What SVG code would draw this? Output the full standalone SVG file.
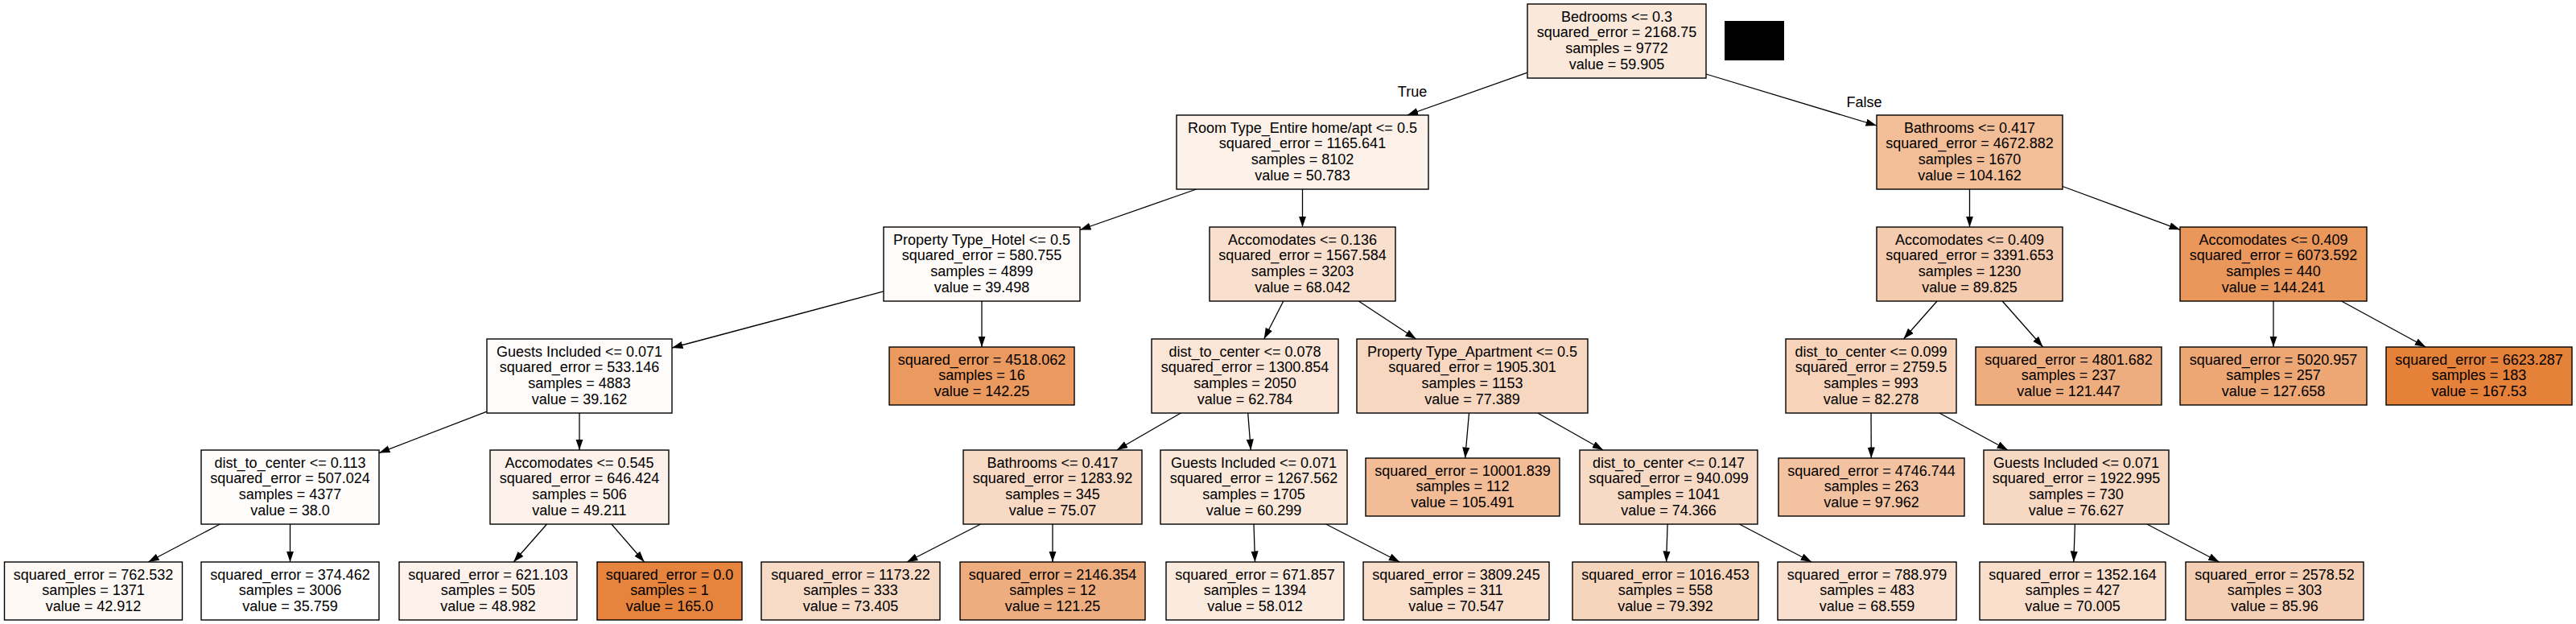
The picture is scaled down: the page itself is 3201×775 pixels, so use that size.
<svg xmlns="http://www.w3.org/2000/svg" width="3201" height="775" viewBox="0 0 3201 775">
<defs>
<marker id="ah" markerUnits="userSpaceOnUse" markerWidth="14" markerHeight="10" refX="13.5" refY="4.6" orient="auto">
<path d="M0,0 L13.5,4.6 L0,9.2 z" fill="#000"/>
</marker>
<style>
.box{stroke:#000;stroke-width:1.4}
text{font-family:"Liberation Sans",Arial,Helvetica,sans-serif;font-size:18px;fill:#000;text-anchor:middle}
.e{stroke:#000;stroke-width:1.3;fill:none;marker-end:url(#ah)}
</style>
</defs>
<rect width="3201" height="775" fill="#fff"/>
<g id="connectors">
<line class="e" x1="1898" y1="90.2" x2="1748.7" y2="143"/>
<line class="e" x1="2120" y1="92" x2="2332" y2="156"/>
<line class="e" x1="1486.6" y1="235" x2="1342" y2="285.5"/>
<line class="e" x1="1618.5" y1="235" x2="1618.5" y2="282"/>
<line class="e" x1="2447.5" y1="235" x2="2447.5" y2="282"/>
<line class="e" x1="2563" y1="231.5" x2="2709" y2="285.3"/>
<line class="e" x1="1098" y1="361.9" x2="835" y2="432"/>
<line class="e" x1="1220" y1="374" x2="1220" y2="431"/>
<line class="e" x1="1594.8" y1="374" x2="1570.7" y2="421"/>
<line class="e" x1="1688.3" y1="374" x2="1759.7" y2="421"/>
<line class="e" x1="2407" y1="374" x2="2365.5" y2="421"/>
<line class="e" x1="2488.2" y1="374" x2="2538.6" y2="431"/>
<line class="e" x1="2825" y1="374" x2="2825" y2="431"/>
<line class="e" x1="2909.6" y1="374" x2="3014.3" y2="431"/>
<line class="e" x1="605" y1="511.2" x2="471" y2="562.6"/>
<line class="e" x1="720" y1="513" x2="720" y2="559"/>
<line class="e" x1="1467.3" y1="513" x2="1387.7" y2="559"/>
<line class="e" x1="1550.7" y1="513" x2="1554.3" y2="559"/>
<line class="e" x1="1825.5" y1="513" x2="1820.6" y2="569"/>
<line class="e" x1="1910.8" y1="513" x2="1992.2" y2="559"/>
<line class="e" x1="2325" y1="513" x2="2325.3" y2="569"/>
<line class="e" x1="2410" y1="513" x2="2495" y2="559"/>
<line class="e" x1="273.3" y1="651" x2="184.2" y2="698"/>
<line class="e" x1="360.5" y1="651" x2="360.5" y2="698"/>
<line class="e" x1="679.5" y1="651" x2="638.2" y2="698"/>
<line class="e" x1="759.9" y1="651" x2="800.7" y2="698"/>
<line class="e" x1="1218.5" y1="651" x2="1127" y2="698"/>
<line class="e" x1="1308" y1="651" x2="1308" y2="698"/>
<line class="e" x1="1558" y1="651" x2="1559.5" y2="698"/>
<line class="e" x1="1647.7" y1="651" x2="1739.3" y2="698"/>
<line class="e" x1="2072.1" y1="651" x2="2070.6" y2="698"/>
<line class="e" x1="2161.4" y1="651" x2="2251.2" y2="698"/>
<line class="e" x1="2578.4" y1="651" x2="2576.8" y2="698"/>
<line class="e" x1="2667.9" y1="651" x2="2757.7" y2="698"/>
<text x="1755" y="119.5">True</text>
<text x="2316.5" y="133">False</text>
</g>
<rect x="2143" y="26" width="74" height="49" fill="#000"/>
<g id="n0"><rect class="box" x="1898" y="5" width="222" height="92" fill="#fae8db"/>
<text x="2009" y="26.5">Bedrooms &lt;= 0.3</text><text x="2009" y="46.3">squared_error = 2168.75</text><text x="2009" y="66.1">samples = 9772</text><text x="2009" y="85.9">value = 59.905</text></g>
<g id="n1"><rect class="box" x="1462" y="143" width="313" height="92" fill="#fcf1e8"/>
<text x="1618.5" y="164.5">Room Type_Entire home/apt &lt;= 0.5</text><text x="1618.5" y="184.3">squared_error = 1165.641</text><text x="1618.5" y="204.1">samples = 8102</text><text x="1618.5" y="223.9">value = 50.783</text></g>
<g id="n2"><rect class="box" x="2332" y="143" width="231" height="92" fill="#f2be98"/>
<text x="2447.5" y="164.5">Bathrooms &lt;= 0.417</text><text x="2447.5" y="184.3">squared_error = 4672.882</text><text x="2447.5" y="204.1">samples = 1670</text><text x="2447.5" y="223.9">value = 104.162</text></g>
<g id="n3"><rect class="box" x="1098" y="282" width="244" height="92" fill="#fefbf9"/>
<text x="1220" y="303.5">Property Type_Hotel &lt;= 0.5</text><text x="1220" y="323.3">squared_error = 580.755</text><text x="1220" y="343.1">samples = 4899</text><text x="1220" y="362.9">value = 39.498</text></g>
<g id="n4"><rect class="box" x="1503" y="282" width="231" height="92" fill="#f9e0ce"/>
<text x="1618.5" y="303.5">Accomodates &lt;= 0.136</text><text x="1618.5" y="323.3">squared_error = 1567.584</text><text x="1618.5" y="343.1">samples = 3203</text><text x="1618.5" y="362.9">value = 68.042</text></g>
<g id="n5"><rect class="box" x="2332" y="282" width="231" height="92" fill="#f4cbae"/>
<text x="2447.5" y="303.5">Accomodates &lt;= 0.409</text><text x="2447.5" y="323.3">squared_error = 3391.653</text><text x="2447.5" y="343.1">samples = 1230</text><text x="2447.5" y="362.9">value = 89.825</text></g>
<g id="n6"><rect class="box" x="2709" y="282" width="232" height="92" fill="#ea975c"/>
<text x="2825" y="303.5">Accomodates &lt;= 0.409</text><text x="2825" y="323.3">squared_error = 6073.592</text><text x="2825" y="343.1">samples = 440</text><text x="2825" y="362.9">value = 144.241</text></g>
<g id="n7"><rect class="box" x="605" y="421" width="230" height="92" fill="#fefcfa"/>
<text x="720" y="442.5">Guests Included &lt;= 0.071</text><text x="720" y="462.3">squared_error = 533.146</text><text x="720" y="482.1">samples = 4883</text><text x="720" y="501.9">value = 39.162</text></g>
<g id="n8"><rect class="box" x="1105" y="431" width="230" height="72" fill="#ea995f"/>
<text x="1220" y="452.5">squared_error = 4518.062</text><text x="1220" y="472.3">samples = 16</text><text x="1220" y="492.1">value = 142.25</text></g>
<g id="n9"><rect class="box" x="1431" y="421" width="232" height="92" fill="#fae5d6"/>
<text x="1547" y="442.5">dist_to_center &lt;= 0.078</text><text x="1547" y="462.3">squared_error = 1300.854</text><text x="1547" y="482.1">samples = 2050</text><text x="1547" y="501.9">value = 62.784</text></g>
<g id="n10"><rect class="box" x="1686" y="421" width="287" height="92" fill="#f7d7c0"/>
<text x="1829.5" y="442.5">Property Type_Apartment &lt;= 0.5</text><text x="1829.5" y="462.3">squared_error = 1905.301</text><text x="1829.5" y="482.1">samples = 1153</text><text x="1829.5" y="501.9">value = 77.389</text></g>
<g id="n11"><rect class="box" x="2219" y="421" width="212" height="92" fill="#f6d3b9"/>
<text x="2325" y="442.5">dist_to_center &lt;= 0.099</text><text x="2325" y="462.3">squared_error = 2759.5</text><text x="2325" y="482.1">samples = 993</text><text x="2325" y="501.9">value = 82.278</text></g>
<g id="n12"><rect class="box" x="2455" y="431" width="231" height="72" fill="#eead7e"/>
<text x="2570.5" y="452.5">squared_error = 4801.682</text><text x="2570.5" y="472.3">samples = 237</text><text x="2570.5" y="492.1">value = 121.447</text></g>
<g id="n13"><rect class="box" x="2709" y="431" width="232" height="72" fill="#eda775"/>
<text x="2825" y="452.5">squared_error = 5020.957</text><text x="2825" y="472.3">samples = 257</text><text x="2825" y="492.1">value = 127.658</text></g>
<g id="n14"><rect class="box" x="2965" y="431" width="231" height="72" fill="#e58139"/>
<text x="3080.5" y="452.5">squared_error = 6623.287</text><text x="3080.5" y="472.3">samples = 183</text><text x="3080.5" y="492.1">value = 167.53</text></g>
<g id="n15"><rect class="box" x="250" y="559" width="221" height="92" fill="#fffdfc"/>
<text x="360.5" y="580.5">dist_to_center &lt;= 0.113</text><text x="360.5" y="600.3">squared_error = 507.024</text><text x="360.5" y="620.1">samples = 4377</text><text x="360.5" y="639.9">value = 38.0</text></g>
<g id="n16"><rect class="box" x="609" y="559" width="222" height="92" fill="#fcf2eb"/>
<text x="720" y="580.5">Accomodates &lt;= 0.545</text><text x="720" y="600.3">squared_error = 646.424</text><text x="720" y="620.1">samples = 506</text><text x="720" y="639.9">value = 49.211</text></g>
<g id="n17"><rect class="box" x="1197" y="559" width="222" height="92" fill="#f7d9c4"/>
<text x="1308" y="580.5">Bathrooms &lt;= 0.417</text><text x="1308" y="600.3">squared_error = 1283.92</text><text x="1308" y="620.1">samples = 345</text><text x="1308" y="639.9">value = 75.07</text></g>
<g id="n18"><rect class="box" x="1442" y="559" width="232" height="92" fill="#fae8da"/>
<text x="1558" y="580.5">Guests Included &lt;= 0.071</text><text x="1558" y="600.3">squared_error = 1267.562</text><text x="1558" y="620.1">samples = 1705</text><text x="1558" y="639.9">value = 60.299</text></g>
<g id="n19"><rect class="box" x="1697" y="569" width="241" height="72" fill="#f1bc96"/>
<text x="1817.5" y="590.5">squared_error = 10001.839</text><text x="1817.5" y="610.3">samples = 112</text><text x="1817.5" y="630.1">value = 105.491</text></g>
<g id="n20"><rect class="box" x="1963" y="559" width="221" height="92" fill="#f7dac5"/>
<text x="2073.5" y="580.5">dist_to_center &lt;= 0.147</text><text x="2073.5" y="600.3">squared_error = 940.099</text><text x="2073.5" y="620.1">samples = 1041</text><text x="2073.5" y="639.9">value = 74.366</text></g>
<g id="n21"><rect class="box" x="2210" y="569" width="231" height="72" fill="#f3c3a1"/>
<text x="2325.5" y="590.5">squared_error = 4746.744</text><text x="2325.5" y="610.3">samples = 263</text><text x="2325.5" y="630.1">value = 97.962</text></g>
<g id="n22"><rect class="box" x="2465" y="559" width="230" height="92" fill="#f7d8c2"/>
<text x="2580" y="580.5">Guests Included &lt;= 0.071</text><text x="2580" y="600.3">squared_error = 1922.995</text><text x="2580" y="620.1">samples = 730</text><text x="2580" y="639.9">value = 76.627</text></g>
<g id="n23"><rect class="box" x="5.5" y="698" width="221" height="72" fill="#fef8f4"/>
<text x="116" y="719.5">squared_error = 762.532</text><text x="116" y="739.3">samples = 1371</text><text x="116" y="759.1">value = 42.912</text></g>
<g id="n24"><rect class="box" x="250" y="698" width="221" height="72" fill="#ffffff"/>
<text x="360.5" y="719.5">squared_error = 374.462</text><text x="360.5" y="739.3">samples = 3006</text><text x="360.5" y="759.1">value = 35.759</text></g>
<g id="n25"><rect class="box" x="496" y="698" width="221" height="72" fill="#fcf2eb"/>
<text x="606.5" y="719.5">squared_error = 621.103</text><text x="606.5" y="739.3">samples = 505</text><text x="606.5" y="759.1">value = 48.982</text></g>
<g id="n26"><rect class="box" x="742" y="698" width="180" height="72" fill="#e6833c"/>
<text x="832" y="719.5">squared_error = 0.0</text><text x="832" y="739.3">samples = 1</text><text x="832" y="759.1">value = 165.0</text></g>
<g id="n27"><rect class="box" x="946" y="698" width="222" height="72" fill="#f8dbc6"/>
<text x="1057" y="719.5">squared_error = 1173.22</text><text x="1057" y="739.3">samples = 333</text><text x="1057" y="759.1">value = 73.405</text></g>
<g id="n28"><rect class="box" x="1193" y="698" width="230" height="72" fill="#eead7e"/>
<text x="1308" y="719.5">squared_error = 2146.354</text><text x="1308" y="739.3">samples = 12</text><text x="1308" y="759.1">value = 121.25</text></g>
<g id="n29"><rect class="box" x="1449" y="698" width="221" height="72" fill="#fbeade"/>
<text x="1559.5" y="719.5">squared_error = 671.857</text><text x="1559.5" y="739.3">samples = 1394</text><text x="1559.5" y="759.1">value = 58.012</text></g>
<g id="n30"><rect class="box" x="1694" y="698" width="231" height="72" fill="#f8decb"/>
<text x="1809.5" y="719.5">squared_error = 3809.245</text><text x="1809.5" y="739.3">samples = 311</text><text x="1809.5" y="759.1">value = 70.547</text></g>
<g id="n31"><rect class="box" x="1954" y="698" width="231" height="72" fill="#f6d5bd"/>
<text x="2069.5" y="719.5">squared_error = 1016.453</text><text x="2069.5" y="739.3">samples = 558</text><text x="2069.5" y="759.1">value = 79.392</text></g>
<g id="n32"><rect class="box" x="2209" y="698" width="222" height="72" fill="#f9e0ce"/>
<text x="2320" y="719.5">squared_error = 788.979</text><text x="2320" y="739.3">samples = 483</text><text x="2320" y="759.1">value = 68.559</text></g>
<g id="n33"><rect class="box" x="2460" y="698" width="231" height="72" fill="#f8decb"/>
<text x="2575.5" y="719.5">squared_error = 1352.164</text><text x="2575.5" y="739.3">samples = 427</text><text x="2575.5" y="759.1">value = 70.005</text></g>
<g id="n34"><rect class="box" x="2716" y="698" width="221" height="72" fill="#f5cfb4"/>
<text x="2826.5" y="719.5">squared_error = 2578.52</text><text x="2826.5" y="739.3">samples = 303</text><text x="2826.5" y="759.1">value = 85.96</text></g>
</svg>
